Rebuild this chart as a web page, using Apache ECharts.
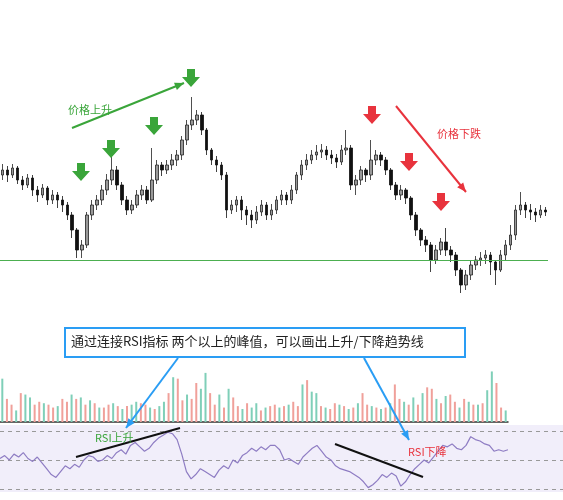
<!DOCTYPE html>
<html>
<head>
<meta charset="utf-8">
<script src="https://cdn.jsdelivr.net/npm/echarts@6/dist/echarts.min.js"></script>
<style>html,body{margin:0;padding:0;background:#fff}#main{width:563px;height:500px}</style>
</head>
<body>
<div id="main"></div>
<script>
// K线 [open, close, low, high]
let candles = [
	[125,130,120,136],[130,125,118,134],[125,132,122,136],[132,120,116,134],[120,115,110,124],
	[115,122,112,126],[122,110,104,125],[110,105,98,114],[105,112,102,116],[112,100,95,114],
	[100,105,96,110],[105,100,92,108],[100,95,88,104],[95,85,80,98],[85,70,62,88],
	[70,50,42,72],[50,55,42,60],[55,85,52,88],[85,95,80,100],[95,100,90,105],
	[100,110,95,115],[110,120,105,126],[120,130,115,157],[130,115,110,134],[115,100,95,118],
	[100,90,85,104],[90,95,86,100],[95,105,92,110],[105,110,100,115],[110,100,96,114],
	[100,120,98,152],[120,135,116,140],[135,130,124,138],[130,135,126,140],[135,140,130,146],
	[140,145,134,150],[145,160,140,164],[160,175,155,180],[175,180,170,203],[180,185,175,190],
	[185,170,165,188],[170,150,145,172],[150,140,135,152],[140,135,128,144],[135,125,120,138],
	[125,90,82,128],[90,95,86,100],[95,100,88,104],[100,90,80,104],[90,85,75,94],
	[85,80,72,90],[80,88,76,94],[88,95,84,100],[95,85,80,98],[85,90,80,96],
	[90,100,86,104],[100,105,95,110],[105,100,95,108],[100,110,96,115],[110,125,106,128],
	[125,135,120,140],[135,140,130,146],[140,145,136,150],[145,148,140,155],[148,150,142,156],
	[150,145,140,154],[145,142,136,150],[142,138,132,146],[138,150,135,155],[150,152,145,170],
	[152,115,110,155],[115,120,105,125],[120,130,115,134],[130,125,118,132],[125,140,120,160],
	[140,145,135,150],[145,140,134,148],[140,130,125,143],[130,115,110,132],[115,105,100,118],
	[105,110,100,115],[110,102,96,112],[102,85,80,104],[85,70,64,88],[70,60,54,72],
	[60,55,48,64],[55,40,28,58],[40,50,36,55],[50,58,45,62],[58,50,44,72],
	[50,45,38,54],[45,30,24,48],[30,15,7,32],[15,25,10,30],[25,35,20,40],
	[35,40,30,44],[40,42,34,48],[42,45,36,50],[45,38,25,48],[38,30,15,40],
	[30,45,28,50],[45,55,40,60],[55,65,50,75],[65,90,60,95],[90,95,85,108],
	[95,90,82,98],[90,88,80,96],[88,85,78,92],[85,90,82,95],[90,88,84,93]
];
let volumes = [30,16,12,8,20,19,17,12,14,13,12,10,11,16,14,19,16,17,12,15,
	13,10,10,12,13,11,9,11,12,14,13,12,10,9,11,14,20,31,30,15,
	19,16,27,23,34,20,12,19,10,23,17,11,9,13,10,13,8,10,11,12,
	10,11,12,14,11,26,29,21,20,11,10,9,13,12,11,9,10,13,20,12,
	11,10,9,10,13,26,16,14,12,17,12,20,24,23,16,13,18,19,14,10,
	16,14,12,12,13,22,35,27,10,8];
let volUp = [1,0,0,1,0,1,1,0,0,1,0,0,1,0,0,1,0,1,0,1,
	0,1,0,0,1,0,1,0,1,1,0,0,1,0,1,1,0,1,0,0,
	1,0,0,1,1,0,0,1,0,1,0,0,1,0,1,1,0,1,0,0,
	1,0,1,0,0,1,0,1,1,0,1,0,0,1,0,1,0,1,0,0,
	1,0,1,0,1,0,0,1,0,1,0,1,0,0,1,0,1,0,0,1,
	0,1,0,1,0,1,1,0,0,1];
let rsi = [51,53,50,54,52,55,51,49,52,48, 44,40,38,42,46,44,47,45,50,53,
	52,49,50,53,51,55,57,54,60,62, 59,56,58,62,65,67,69,68,64,54,
	42,37,40,44,42,40,38,43,46,44, 50,48,53,55,58,56,59,57,60,60,
	57,50,51,49,47,52,55,58,60,56, 52,50,46,44,43,42,40,38,35,31,
	33,36,40,38,41,39,32,35,40,44, 47,50,48,52,56,60,59,61,58,57,
	60,66,64,63,61,60,56,57,56,57];
let rsiLevels = [30, 50, 70];
let support = 40;
let cats = candles.map((d, i) => i);

// 方块箭头（向下）
function downArrow(cx, top, color) {
	return {
		type: "polygon", z: 100,
		shape: { points: [[cx - 4, top], [cx + 4, top], [cx + 4, top + 8], [cx + 9, top + 8], [cx, top + 18], [cx - 9, top + 8], [cx - 4, top + 8]] },
		style: { fill: color },
	};
}
// 细线箭头
function lineArrow(x1, y1, x2, y2, color, w) {
	let a = Math.atan2(y2 - y1, x2 - x1), L = 10;
	return [
		{ type: "line", z: 100, shape: { x1: x1, y1: y1, x2: x2, y2: y2 }, style: { stroke: color, lineWidth: w } },
		{ type: "polygon", z: 100, shape: { points: [[x2, y2],
			[x2 - L * Math.cos(a - 0.4), y2 - L * Math.sin(a - 0.4)],
			[x2 - L * Math.cos(a + 0.4), y2 - L * Math.sin(a + 0.4)]] }, style: { fill: color } },
	];
}
let green = "#3aa53a", red = "#e8333d", blue = "#2a9df4";
let graphics = [
	downArrow(81, 163, green), downArrow(111, 140, green), downArrow(154, 117, green), downArrow(191, 69, green),
	downArrow(372, 106, red), downArrow(409, 153, red), downArrow(441, 193, red),
	...lineArrow(72, 128, 184, 83, green, 2),
	...lineArrow(396, 106, 466, 192, red, 2),
	{ type: "text", z: 100, style: { text: "价格上升", x: 68, y: 104, fill: green, font: "11px 'Noto Sans CJK SC'" } },
	{ type: "text", z: 100, style: { text: "价格下跌", x: 437, y: 128, fill: red, font: "11px 'Noto Sans CJK SC'" } },
	...lineArrow(178, 358, 126, 428, blue, 2),
	...lineArrow(364, 358, 409, 440, blue, 2),
	{ type: "rect", z: 100, shape: { x: 65, y: 328, width: 400, height: 29 }, style: { fill: "#fff", stroke: blue, lineWidth: 2 } },
	{ type: "text", z: 101, style: { text: "通过连接RSI指标 两个以上的峰值，可以画出上升/下降趋势线", x: 71, y: 335, fill: "#222", font: "13px 'Noto Sans CJK SC'" } },
	{ type: "line", z: 100, shape: { x1: 76, y1: 457, x2: 180, y2: 428 }, style: { stroke: "#111", lineWidth: 2 } },
	{ type: "line", z: 100, shape: { x1: 335, y1: 444, x2: 423, y2: 477 }, style: { stroke: "#111", lineWidth: 2 } },
	{ type: "text", z: 100, style: { text: "RSI上升", x: 95, y: 432, fill: green, font: "11px 'Noto Sans CJK SC'" } },
	{ type: "text", z: 100, style: { text: "RSI下降", x: 408, y: 446, fill: red, font: "11px 'Noto Sans CJK SC'" } },
];

let chart = echarts.init(document.getElementById("main"));
let hidden = { axisLine: { show: false }, axisTick: { show: false }, axisLabel: { show: false }, splitLine: { show: false } };
chart.setOption({
	animation: false,
	grid: [
		{ left: 0, width: 548, top: 60, height: 240 },
		{ left: 0, width: 508, top: 370, height: 52 },
		{ left: 0, width: 563, top: 425, height: 67 },
		{ left: 0, width: 508, top: 425, height: 67 },
	],
	xAxis: [
		{ type: "category", data: cats, gridIndex: 0, ...hidden },
		{ type: "category", data: cats, gridIndex: 1, ...hidden, axisLine: { show: true, onZero: false, lineStyle: { color: "#333", width: 1.5 } } },
		{ type: "value", gridIndex: 2, min: 0, max: 1, ...hidden },
		{ type: "category", data: cats, gridIndex: 3, boundaryGap: false, ...hidden },
	],
	yAxis: [
		{ type: "value", gridIndex: 0, min: 0, max: 240, ...hidden },
		{ type: "value", gridIndex: 1, min: 0, max: 36, ...hidden },
		{ type: "value", gridIndex: 2, min: 28, max: 74, ...hidden },
		{ type: "value", gridIndex: 3, min: 28, max: 74, ...hidden },
	],
	series: [
		{
			type: "candlestick", xAxisIndex: 0, yAxisIndex: 0, data: candles, barWidth: 3,
			itemStyle: { color: "#999", color0: "#111", borderColor: "#222", borderColor0: "#111", borderWidth: 0.8 },
			markLine: {
				symbol: "none", silent: true, label: { show: false },
				lineStyle: { color: "#4caf50", type: "solid", width: 1 },
				data: [{ yAxis: support }],
			},
		},
		{
			type: "bar", xAxisIndex: 1, yAxisIndex: 1, barWidth: 2,
			data: volumes.map((v, i) => ({ value: v, itemStyle: { color: volUp[i] ? "#7fcfb8" : "#f0a09a" } })),
		},
		{
			// 背景与参考线
			type: "line", xAxisIndex: 2, yAxisIndex: 2, data: [],
			markArea: { silent: true, itemStyle: { color: "#f1eefa" }, data: [[{ yAxis: 28 }, { yAxis: 74 }]] },
			markLine: {
				symbol: "none", silent: true, label: { show: false },
				lineStyle: { color: "#999", type: [4, 4], width: 1 },
				data: rsiLevels.map(v => ({ yAxis: v })),
			},
		},
		{
			type: "line", xAxisIndex: 3, yAxisIndex: 3, data: rsi, symbol: "none",
			lineStyle: { color: "#8e7cc3", width: 1.2 }, z: 5,
		},
	],
	graphic: graphics,
});
</script>
</body>
</html>
